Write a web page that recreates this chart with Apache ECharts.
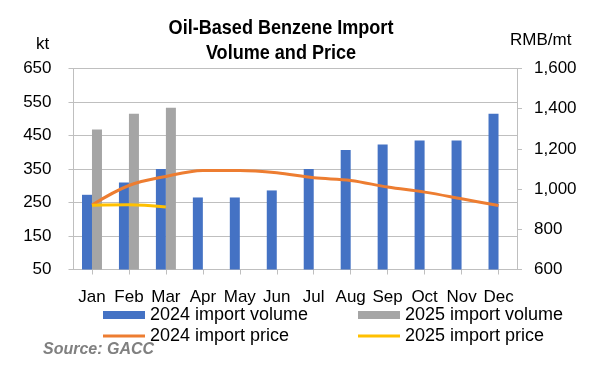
<!DOCTYPE html>
<html>
<head>
<meta charset="utf-8">
<script src="https://cdn.jsdelivr.net/npm/echarts@6/dist/echarts.min.js"></script>
<style>
html,body{margin:0;padding:0;background:#fff;}
#chart{width:599px;height:367px;}
</style>
</head>
<body>
<div id="chart"></div>
<script>
const months = ['Jan','Feb','Mar','Apr','May','Jun','Jul','Aug','Sep','Oct','Nov','Dec'];
const vol2024 = [273, 310, 350, 265, 265, 286, 350, 407, 423, 435, 435, 515];
const vol2025 = [468, 515, 533];
const price2024 = [921, 1018, 1063, 1092, 1093, 1081, 1056, 1043, 1010, 985, 952, 918];
const price2025 = [920, 922, 911];
const leftTicks = [50, 650, 100];
const rightTicks = [600, 1600, 200];

const FONT = 'Liberation Sans';
const TXT = '#000';
const chart = echarts.init(document.getElementById('chart'), null, {renderer: 'canvas'});

function leg(name, left, top, h, color) {
  return {
    data: [{name: name, itemStyle: {color: color}}], left: left, top: top, orient: 'horizontal',
    itemWidth: 42, itemHeight: h, icon: 'rect', padding: 0, itemGap: 0,
    textStyle: {fontFamily: FONT, fontSize: 18, color: TXT}
  };
}

chart.setOption({
  animation: false,
  backgroundColor: '#fff',
  graphic: [
    {type: 'text', x: 281, y: 28, scaleX: 0.86, style: {text: 'Oil-Based Benzene Import', font: 'bold 21px "Liberation Sans"', fill: TXT, textAlign: 'center', textVerticalAlign: 'middle'}},
    {type: 'text', x: 281, y: 53, scaleX: 0.86, style: {text: 'Volume and Price', font: 'bold 21px "Liberation Sans"', fill: TXT, textAlign: 'center', textVerticalAlign: 'middle'}},
    {type: 'text', left: 36, top: 36, style: {text: 'kt', font: '17px "Liberation Sans"', fill: TXT}},
    {type: 'text', left: 510, top: 32, style: {text: 'RMB/mt', font: '17px "Liberation Sans"', fill: TXT}},
    {type: 'text', left: 43, top: 342, style: {text: 'Source: GACC', font: 'italic bold 16px "Liberation Sans"', fill: '#808080'}}
  ],
  legend: [
    leg('2024 import volume', 103, 306, 8, '#4472C4'),
    leg('2025 import volume', 358, 306, 8, '#A5A5A5'),
    leg('2024 import price', 103, 327, 3, '#ED7D31'),
    leg('2025 import price', 358, 327, 3, '#FFC000')
  ],
  grid: {left: 73.5, right: 82, top: 68.5, bottom: 97.5, containLabel: false},
  xAxis: {
    type: 'category', data: months, boundaryGap: true,
    axisLine: {show: true, lineStyle: {color: '#BFBFBF', width: 1}},
    axisTick: {show: true, alignWithLabel: true, length: 5, lineStyle: {color: '#BFBFBF'}},
    axisLabel: {fontFamily: FONT, fontSize: 17, color: TXT, margin: 19, interval: 0}
  },
  yAxis: [
    {
      type: 'value', min: leftTicks[0], max: leftTicks[1], interval: leftTicks[2],
      axisLine: {show: true, lineStyle: {color: '#BFBFBF'}},
      axisTick: {show: true, length: 5, lineStyle: {color: '#BFBFBF'}},
      splitLine: {show: true, lineStyle: {color: '#BFBFBF', width: 1}},
      axisLabel: {fontFamily: FONT, fontSize: 17, color: TXT, margin: 22}
    },
    {
      type: 'value', min: rightTicks[0], max: rightTicks[1], interval: rightTicks[2],
      axisLine: {show: true, lineStyle: {color: '#BFBFBF'}},
      axisTick: {show: true, length: 5, lineStyle: {color: '#BFBFBF'}},
      splitLine: {show: false},
      axisLabel: {fontFamily: FONT, fontSize: 17, color: TXT, margin: 17,
        formatter: v => v.toLocaleString('en-US')}
    }
  ],
  series: [
    {name: '2024 import volume', type: 'bar', data: vol2024, barWidth: 10, barGap: '0%',
      itemStyle: {color: '#4472C4'}, clip: true},
    {name: '2025 import volume', type: 'bar', data: vol2025, barWidth: 10, barGap: '0%',
      itemStyle: {color: '#A5A5A5'}, clip: true},
    {name: '2024 import price', type: 'line', yAxisIndex: 1, data: price2024, smooth: 0.35,
      symbol: 'none', showSymbol: false, lineStyle: {color: '#ED7D31', width: 3}, itemStyle: {color: '#ED7D31'}},
    {name: '2025 import price', type: 'line', yAxisIndex: 1, data: price2025, smooth: 0.35,
      symbol: 'none', showSymbol: false, lineStyle: {color: '#FFC000', width: 3}, itemStyle: {color: '#FFC000'}}
  ]
});
</script>
</body>
</html>
